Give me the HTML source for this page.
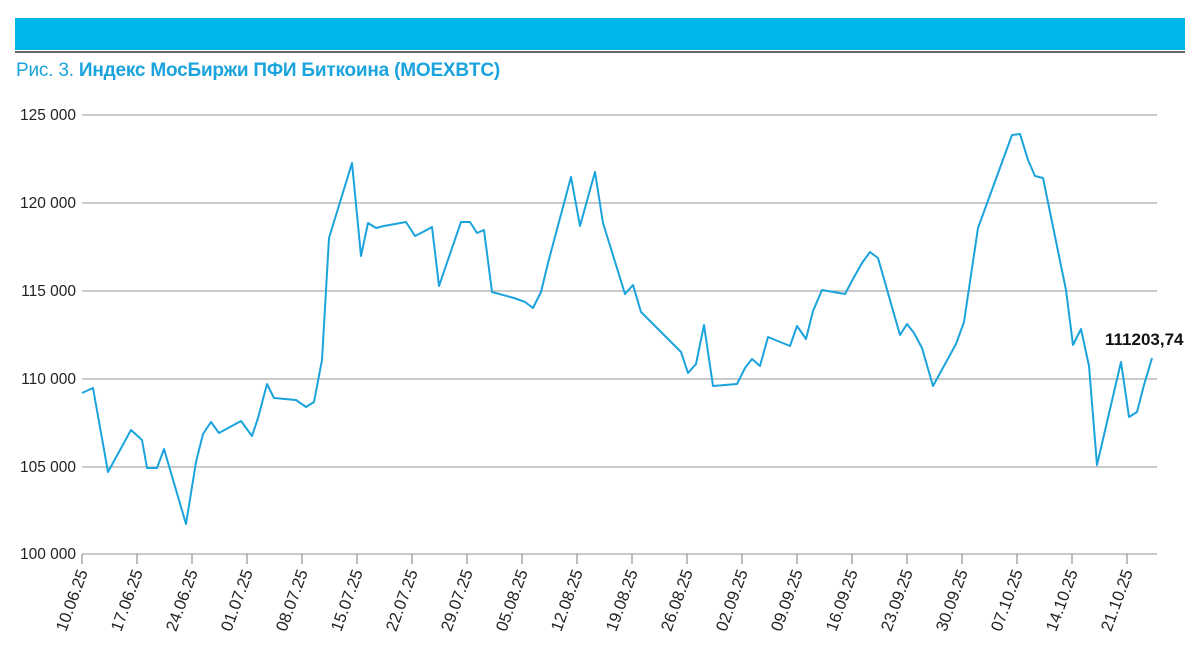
<!DOCTYPE html>
<html><head><meta charset="utf-8"><style>
body{margin:0;background:#fff;width:1200px;height:654px;overflow:hidden;font-family:"Liberation Sans",sans-serif}
</style></head><body>
<svg width="1200" height="654" xmlns="http://www.w3.org/2000/svg" font-family="Liberation Sans, sans-serif">
<rect x="15" y="18" width="1170" height="32" fill="#00b4ec"/>
<rect x="15" y="51" width="1170" height="2" fill="#666"/>
<text x="16" y="76" font-size="19" fill="#1aa3dc" letter-spacing="-0.2">Рис. 3. <tspan font-weight="bold">Индекс МосБиржи ПФИ Биткоина (MOEXBTC)</tspan></text>
<g stroke="#aaa" stroke-width="1.3">
<line x1="82" y1="115" x2="1157" y2="115"/>
<line x1="82" y1="203" x2="1157" y2="203"/>
<line x1="82" y1="291" x2="1157" y2="291"/>
<line x1="82" y1="379" x2="1157" y2="379"/>
<line x1="82" y1="467" x2="1157" y2="467"/>
<line x1="82" y1="554" x2="1157" y2="554"/>
</g>
<g font-size="15.5" fill="#222" text-anchor="end">
<text x="76" y="120">125 000</text><text x="76" y="208">120 000</text><text x="76" y="296">115 000</text>
<text x="76" y="384">110 000</text><text x="76" y="472">105 000</text><text x="76" y="559">100 000</text>
</g>
<g stroke="#999" stroke-width="1.3" id="ticks"></g>
<g font-size="16.5" fill="#222" text-anchor="end" id="dates"></g>
<polyline fill="none" stroke="#1aa3dc" stroke-width="2" stroke-linejoin="round" points="82,393 93,388 108,472 131,430 142,440 147,468 157,468 164,449 186,524 196,462 203,434 211,422 219,433 241,421 252,436 258,418 267,384 274,398 296,400 306,407 314,402 322,360 329,238 352,163 361,256 368,223 376,228 384,226 406,222 415,236 423,232 432,227 439,286 461,222 470,222 477,233 484,230 492,292 514,298 525,302 533,308 541,292 548,263 571,177 580,226 595,172 603,223 625,294 633,285 641,312 681,352 688,373 696,364 704,325 713,386 737,384 745,368 752,359 760,366 768,337 790,346 797,326 806,339 813,311 822,290 845,294 853,279 862,263 870,252 878,258 900,335 907,324 914,333 922,348 933,386 956,344 964,322 978,228 1012,135 1020,134 1028,160 1035,176 1043,178 1066,290 1073,345 1081,329 1089,366 1097,465 1121,362 1129,417 1137,412 1144,385 1152,358"/>
<text x="1105" y="345" font-size="17" font-weight="bold" fill="#111">111203,74</text>
</svg>
<script>
var d=["10.06.25","17.06.25","24.06.25","01.07.25","08.07.25","15.07.25","22.07.25","29.07.25","05.08.25","12.08.25","19.08.25","26.08.25","02.09.25","09.09.25","16.09.25","23.09.25","30.09.25","07.10.25","14.10.25","21.10.25"];
var t=document.getElementById('ticks'),g=document.getElementById('dates'),ns="http://www.w3.org/2000/svg";
d.forEach(function(s,i){var x=82+i*55;var l=document.createElementNS(ns,'line');l.setAttribute('x1',x);l.setAttribute('x2',x);l.setAttribute('y1',554);l.setAttribute('y2',564);t.appendChild(l);
var tx=document.createElementNS(ns,'text');tx.setAttribute('transform','translate('+(x+6)+',572) rotate(-70)');tx.textContent=s;g.appendChild(tx);});
</script>
</body></html>
